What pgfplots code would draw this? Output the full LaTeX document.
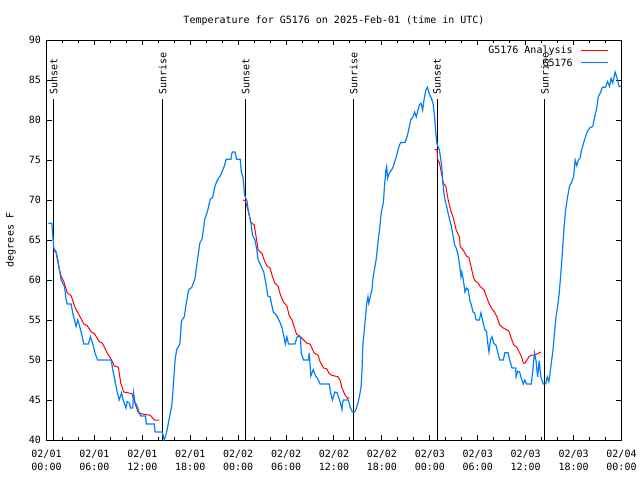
\documentclass[border=0pt]{standalone}
\usepackage{pgfplots}
\pgfplotsset{compat=1.18}
\usepackage{fontspec}
\setmainfont{DejaVu Sans Mono}
\definecolor{obsblue}{RGB}{0,128,255}
\definecolor{anared}{RGB}{255,0,0}
\newcommand{\gfont}{\fontsize{7.5}{9.75}\selectfont}

\begin{document}
\begin{tikzpicture}
\useasboundingbox (0,0) rectangle (480pt,360pt);
\begin{axis}[
  at={(34.875pt,30pt)}, anchor=south west,
  scale only axis, width=431.25pt, height=300pt,
  xmin=0, xmax=72, ymin=40, ymax=90,
  axis line style={line width=0.75pt},
  xtick={0,6,...,72},
  xticklabels={{02/01\\00:00},{02/01\\06:00},{02/01\\12:00},{02/01\\18:00},{02/02\\00:00},{02/02\\06:00},{02/02\\12:00},{02/02\\18:00},{02/03\\00:00},{02/03\\06:00},{02/03\\12:00},{02/03\\18:00},{02/04\\00:00}},
  minor x tick num=2,
  ytick={40,45,...,90},
  tick align=inside,
  major tick length=3.75pt, minor tick length=2.25pt,
  every tick/.style={black, line width=0.75pt},
  /pgf/number format/assume math mode=true,
  font=\gfont,
  ticklabel style={font=\gfont},
  xticklabel style={align=center, inner sep=0pt, anchor=north, yshift=-7.5pt},
  yticklabel style={inner sep=0pt, xshift=-4pt},
  title={Temperature for G5176 on 2025-Feb-01 (time in UTC)},
  title style={at={(0.5,1)}, anchor=center, yshift=8.25pt, inner sep=0pt, font=\gfont},
  ylabel={degrees F},
  ylabel style={at={(axis description cs:-0.062,0.5)}, anchor=center, inner sep=0pt, font=\gfont},
  legend style={draw=none, fill=none, at={(axis description cs:0.978,0.984)}, anchor=north east,
    inner sep=0pt, outer sep=0pt, row sep=2.2pt, column sep=6pt,
    nodes={inner sep=0pt, text height=5.5pt, text depth=1.5pt}, font=\gfont},
  legend cell align=right, legend plot pos=right,
  legend image code/.code={\draw[#1] (0pt,0.6pt) -- (20.25pt,0.6pt);},
]
% sunset / sunrise markers
\addplot[black, line width=0.75pt, forget plot] coordinates {(0.91,40) (0.91,82.6)};
\addplot[black, line width=0.75pt, forget plot] coordinates {(14.54,40) (14.54,82.6)};
\addplot[black, line width=0.75pt, forget plot] coordinates {(24.94,40) (24.94,82.6)};
\addplot[black, line width=0.75pt, forget plot] coordinates {(38.46,40) (38.46,82.6)};
\addplot[black, line width=0.75pt, forget plot] coordinates {(48.91,40) (48.91,82.6)};
\addplot[black, line width=0.75pt, forget plot] coordinates {(62.41,40) (62.41,82.6)};
\node[rotate=90, anchor=west, inner sep=0pt, font=\gfont] at (axis cs:0.91,83.2) {Sunset};
\node[rotate=90, anchor=west, inner sep=0pt, font=\gfont] at (axis cs:14.54,83.2) {Sunrise};
\node[rotate=90, anchor=west, inner sep=0pt, font=\gfont] at (axis cs:24.94,83.2) {Sunset};
\node[rotate=90, anchor=west, inner sep=0pt, font=\gfont] at (axis cs:38.46,83.2) {Sunrise};
\node[rotate=90, anchor=west, inner sep=0pt, font=\gfont] at (axis cs:48.91,83.2) {Sunset};
\node[rotate=90, anchor=west, inner sep=0pt, font=\gfont] at (axis cs:62.41,83.2) {Sunrise};

% analysis (red)
\addplot[anared, line width=0.75pt] coordinates {
(0.8,63.75) (1.2,63.5) (1.4,62.3) (1.63,61.25) (1.83,60.5) (2.17,59.8) (2.6,58.4) (3.1,58) (3.6,56.5) (4.1,55.6) (4.67,54.5) (5.1,54.3) (5.6,53.5) (6.0,53.3) (6.6,52.3) (7.0,52.1) (7.67,50.75) (8.1,50.1) (8.5,49.25) (9.0,49.1) (9.3,47.1) (9.67,46.0) (10.7,45.8) (11.0,44.8) (11.5,43.4) (12.25,43.2) (13.0,43.1) (13.5,42.5) (14.1,42.5)
};
\addlegendentry{G5176 Analysis}
\addplot[anared, line width=0.75pt, forget plot] coordinates {
(24.6,70.0) (24.9,69.9) (25.3,68.5) (25.6,67.2) (26.0,66.9) (26.25,65.4) (26.5,63.75) (27,63.3) (27.25,62.5) (27.6,61.75) (28,61.5) (28.3,60.4) (28.6,59.6) (29,59.25) (29.3,58.1) (29.7,57.2) (30.1,56.75) (30.4,55.5) (30.7,55.1) (31,54.2) (31.3,53.25) (31.7,53) (32.1,52.6) (32.6,52.1) (33.0,52.0) (33.5,50.9) (34,50.6) (34.25,49.8) (34.7,49) (35.1,48.9) (35.4,48.3) (35.7,48.1) (36.5,47.9) (36.75,47.5) (37,46.5) (37.4,45.6) (37.7,45.2) (37.9,45.3)
};
\addplot[anared, line width=0.75pt, forget plot] coordinates {
(48.6,76.3) (48.9,76.3) (49.0,75) (49.2,74.7) (49.5,73.1) (49.7,72.1) (50,71.7) (50.3,70) (50.6,68.75) (50.9,67.9) (51.1,67.1) (51.3,66.25) (51.7,65.4) (51.8,64.2) (52.2,63.7) (52.6,63) (52.9,62.8) (53.2,61.5) (53.5,60.2) (53.75,59.8) (54.0,59.7) (54.3,59.2) (54.8,58.75) (55.1,57.9) (55.4,57.1) (55.7,56.5) (56.1,56.0) (56.4,55.4) (56.75,54.4) (57.2,54) (57.7,53.75) (57.9,53.6) (58.2,52.7) (58.5,51.9) (58.9,51.6) (59.25,50.9) (59.5,50.4) (59.7,49.6) (59.9,49.6) (60.1,49.9) (60.4,50.4) (60.7,50.6) (61.1,50.6) (61.5,50.8) (61.9,51.0)
};

% observations (blue)
\addplot[obsblue, line width=0.9pt] coordinates {
(0.25,67.1) (0.67,67.1) (0.75,66) (0.91,64.0) (1.2,63.5) (1.42,62.5) (1.63,61.25) (1.83,60) (2.25,59.2) (2.46,57.5) (2.6,57.0) (3.08,57.0) (3.3,55.8) (3.7,54.2) (3.9,55) (4.1,54.4) (4.4,53.25) (4.67,52) (5.25,52) (5.5,52.9) (5.8,52) (6.1,50.8) (6.4,50) (8.1,50) (8.3,48.75) (8.6,47.3) (8.8,46.25) (9.1,45) (9.4,45.9) (9.6,45) (9.96,44) (10.1,44.8) (10.4,44.6) (10.5,44) (10.8,44) (10.9,45.9) (11.1,44.6) (11.3,44.4) (11.6,43.4) (11.8,43) (12.4,43) (12.5,42) (13.5,42) (13.6,41) (14.5,41) (14.75,40) (15.0,40.8) (15.3,42.3) (15.7,44.4) (15.9,47.1) (16.1,50) (16.3,51.3) (16.7,52) (16.9,54.9) (17.25,55.4) (17.5,57.1) (17.8,58.75) (18.2,59.1) (18.6,60.2) (18.9,62.5) (19.2,64.6) (19.5,65.2) (19.8,67.5) (20.2,68.75) (20.5,70.1) (20.8,70.3) (21.1,71.75) (21.4,72.5) (21.8,73.1) (22.25,74.2) (22.5,75.1) (23.1,75.1) (23.25,76.0) (23.6,76.0) (23.8,75.1) (24.25,75.1) (24.4,73.5) (24.6,72.9) (24.8,70.6) (25.1,69.9) (25.3,68.5) (25.6,67.1) (25.8,65.6) (26.1,65) (26.3,64) (26.5,62.5) (26.8,61.9) (27.2,61.0) (27.5,59.4) (27.7,58) (28,57.9) (28.2,56.9) (28.4,56.0) (28.8,55.6) (29.2,54.8) (29.5,54.0) (29.7,53.1) (29.9,52) (30.1,52.9) (30.3,52) (31.1,52) (31.4,52.9) (31.8,52.9) (31.9,50.8) (32.2,50) (32.8,50) (32.9,50.9) (33.1,48) (33.4,48.8) (33.7,48) (34.0,47.6) (34.25,47) (35.4,47) (35.6,45.8) (35.8,45) (36.1,46) (36.4,45.9) (36.7,45) (37,43.8) (37.1,44.8) (37.2,45) (37.8,45) (38,44.2) (38.3,43.5) (38.6,43.5) (38.8,44) (39,44.6) (39.2,45.5) (39.4,46.7) (39.5,48.5) (39.6,51.7) (39.75,53.3) (39.9,54.9) (40.1,57.1) (40.25,57.9) (40.35,57.1) (40.5,57.7) (40.75,58.75) (40.9,60.4) (41.1,61.5) (41.3,62.7) (41.5,64.7) (41.7,66.25) (41.9,68.3) (42.2,69.8) (42.3,71.5) (42.5,73.75) (42.6,74.2) (42.7,72.7) (42.9,73.3) (43.2,73.75) (43.4,74.1) (43.6,74.8) (43.8,75.4) (44,76.2) (44.2,76.9) (44.4,77.2) (44.9,77.2) (45.2,78.1) (45.4,79) (45.6,80) (45.9,80.4) (46.1,81) (46.3,80.4) (46.5,81.2) (46.7,81.9) (46.9,82.1) (47.1,81.25) (47.3,82.7) (47.5,83.75) (47.7,84.1) (48,83.1) (48.2,82.7) (48.4,82.1) (48.6,80.4) (48.75,78.3) (48.9,77.0) (49.2,76.25) (49.5,74.2) (49.6,72.5) (49.75,71.0) (49.9,70) (50.1,69.2) (50.3,68.3) (50.5,67.5) (50.7,66.7) (50.9,65.6) (51.1,64.4) (51.3,64.0) (51.5,63.3) (51.75,61.7) (51.9,60.4) (52.0,61.0) (52.2,60) (52.4,58.5) (52.6,59.0) (52.8,58.8) (53,57.5) (53.2,56.9) (53.4,56.0) (53.6,55.9) (53.8,55) (54.2,55) (54.4,55.9) (54.6,55) (54.9,53.75) (55.1,53.6) (55.3,51.7) (55.4,51.0) (55.6,52.5) (55.8,52.9) (56.0,52.1) (56.3,51.8) (56.5,51.0) (56.75,50) (57.2,50) (57.4,50.9) (57.8,50.9) (58,50) (58.3,49.0) (58.75,49.0) (58.8,47.9) (59.0,48.6) (59.25,48.5) (59.4,47.9) (59.7,47) (59.9,47.5) (60.1,47) (60.7,47) (60.9,48.75) (61.1,50.9) (61.3,49.9) (61.5,47.9) (61.7,49.9) (61.9,47.9) (62.2,47) (62.5,47) (62.7,47.9) (62.9,47.3) (63,47.9) (63.2,49.6) (63.4,51.0) (63.6,53.3) (63.8,55.4) (64,56.7) (64.2,58.3) (64.4,60.8) (64.6,63.5) (64.8,66.5) (65.0,68.75) (65.25,70.4) (65.5,71.75) (65.7,72.1) (66,72.9) (66.2,75) (66.4,74.3) (66.6,75) (66.8,75.2) (67.0,76.25) (67.3,77.3) (67.7,78.5) (68,79.0) (68.4,79.2) (68.6,80.2) (68.9,81.5) (69.1,82.9) (69.4,83.5) (69.6,84.1) (70,84.1) (70.25,84.8) (70.5,84.2) (70.7,85.2) (70.9,84.6) (71.2,86.0) (71.4,85.4) (71.7,84.2) (72,84.2)
};
\addlegendentry{G5176}
\end{axis}
\end{tikzpicture}
\end{document}
